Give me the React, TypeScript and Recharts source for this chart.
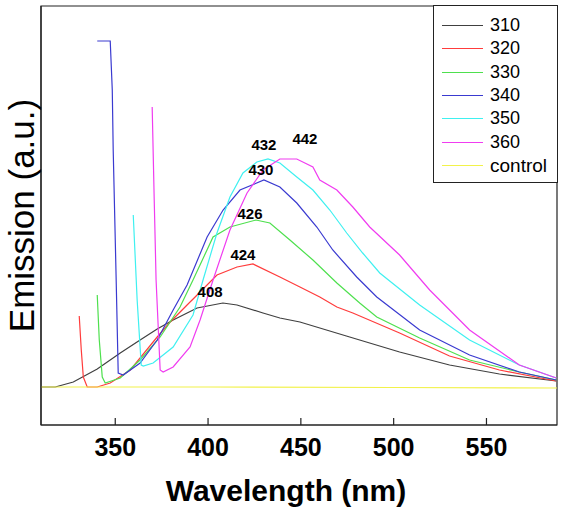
import { LineChart, Line, XAxis, YAxis, Legend, ReferenceArea, ReferenceDot } from 'recharts';

// excitation series, wavelength (nm) vs emission (a.u.)
const wl310 = [310.2, 317.7, 327.4, 340.3, 352.7, 363.4, 372.6, 381.2, 394.1, 408, 415.6, 429.6, 438.7, 449.5, 476.3, 503.2, 530.1, 557, 587.6];
const em310 = [38, 38, 43, 56, 72, 85, 96, 105, 117, 122, 120, 112, 107, 103, 88, 73, 60, 51, 44];

const wl320 = [330.6, 331.7, 332.8, 334.9, 340.3, 347.3, 358.1, 372.6, 379.6, 388.7, 394.1, 404.8, 415.6, 424.2, 438.7, 449.5, 460.2, 469.4, 478, 503.2, 530.1, 557, 587.6];
const em320 = [109, 75, 48, 38, 38, 42, 55, 88, 103, 120, 130, 150, 158, 161, 148, 138, 128, 118, 112, 92, 69, 55, 44];

const wl330 = [340.3, 341.4, 343, 344.6, 352.7, 363.4, 374.2, 384.9, 391.9, 402.7, 411.8, 425.8, 433.3, 444.1, 456.5, 469.4, 481.7, 490.9, 514, 540.9, 567.7, 587.6];
const em330 = [130, 85, 48, 42, 47, 65, 88, 118, 145, 188, 198, 205, 202, 185, 165, 142, 122, 108, 87, 65, 53, 45];

const wl340 = [340.3, 347.3, 348.4, 348.9, 350.5, 351.6, 354.3, 363.4, 372.6, 381.2, 388.7, 399.5, 408.1, 417.2, 430.1, 438.7, 447.8, 458.6, 467.2, 480.1, 490.9, 514, 540.9, 567.7, 587.6];
const em340 = [384, 384, 335, 275, 145, 52, 50, 62, 85, 115, 140, 188, 215, 235, 245, 238, 222, 198, 175, 148, 128, 95, 70, 53, 45];

const wl350 = [359.7, 361.8, 364, 365.1, 370.4, 381.2, 391.9, 397.3, 404.8, 411.8, 418.8, 426.3, 432.3, 438.7, 447.8, 456.5, 465.6, 474.7, 483.3, 492.5, 514, 540.9, 567.7, 587.6];
const em350 = [210, 125, 60, 59, 62, 78, 110, 145, 192, 228, 252, 263, 266, 262, 248, 235, 215, 192, 172, 152, 120, 85, 60, 47];

const wl360 = [369.9, 371, 372, 374.2, 375.8, 381.2, 390.3, 395.7, 402.7, 411.8, 421, 429.6, 438.7, 447.8, 456.5, 460.2, 469.4, 478, 487.1, 503.2, 519.4, 540.9, 567.7, 587.6];
const em360 = [318, 225, 145, 55, 53, 58, 78, 105, 145, 195, 232, 255, 266, 266, 258, 245, 235, 218, 198, 170, 135, 95, 60, 47];

const wlControl = [310, 400, 500, 588];
const emControl = [38, 38, 37.5, 37];

const seriesNames = ['310', '320', '330', '340', '350', '360', 'control'];
const seriesColors = ['#404040', '#ff3c3c', '#4ee04e', '#3a3ad0', '#3ff0f0', '#f03cf0', '#f2f24a'];
const seriesWl = [wl310, wl320, wl330, wl340, wl350, wl360, wlControl];
const seriesEm = [em310, em320, em330, em340, em350, em360, emControl];

// peak annotations
const peakText = ['408', '424', '426', '430', '432', '442'];
const peakLabelWl = [401.1, 418.8, 422.6, 428.5, 430.1, 452.2];
const peakLabelEm = [133, 170, 211, 255, 280, 286];

const xTicks = [350, 400, 450, 500, 550];

const FONT = '"Liberation Sans", Arial, sans-serif';

const series = seriesNames.map((name, i) => ({
  name,
  color: seriesColors[i],
  data: seriesWl[i].map((x, j) => ({ x, y: seriesEm[i][j] })),
}));

function BottomTick({ x, y, payload }: any) {
  return (
    <g>
      <line x1={x} y1={y} x2={x} y2={y - 7} stroke="#222" strokeWidth={1.2} />
      <text x={x} y={y + 31} textAnchor="middle" fontSize={25} fontWeight="bold" fill="#000" fontFamily={FONT}>
        {payload.value}
      </text>
    </g>
  );
}

function XTitle({ viewBox }: any) {
  return (
    <text x={viewBox.x + viewBox.width / 2 - 13} y={viewBox.y + 76} textAnchor="middle" fontSize={30} fontWeight="bold" fill="#000" fontFamily={FONT}>
      Wavelength (nm)
    </text>
  );
}

function YTitle({ viewBox }: any) {
  const cx = 21;
  const cy = viewBox.y + viewBox.height / 2;
  return (
    <text x={cx} y={cy} transform={`rotate(-90 ${cx} ${cy})`} textAnchor="middle" dominantBaseline="central" fontSize={35} fill="#000" fontFamily={FONT}>
      Emission (a.u.)
    </text>
  );
}

function LegendBox() {
  return (
    <div style={{ border: '1px solid #222', background: '#fff', padding: '8px 0 5px 0', boxSizing: 'border-box', width: 125 }}>
      {series.map((s) => (
        <div key={s.name} style={{ display: 'flex', alignItems: 'center', height: 23.3 }}>
          <div style={{ marginLeft: 8, width: 41, height: 0, borderTop: `1px solid ${s.color}` }} />
          <span style={{ marginLeft: 7, fontSize: s.name === 'control' ? 19 : 18, fontFamily: FONT, color: '#000', lineHeight: '23px' }}>{s.name}</span>
        </div>
      ))}
    </div>
  );
}

export default function App() {
  return (
    <div style={{ position: 'absolute', left: 0, top: 0, width: 564, height: 511, background: '#fff' }}>
      <LineChart width={564} height={511} margin={{ top: 6, right: 7, bottom: 0, left: 0 }}>
        <XAxis
          type="number"
          dataKey="x"
          domain={[310, 588]}
          ticks={xTicks}
          allowDataOverflow
          height={86}
          tickSize={0}
          tickMargin={0}
          tickLine={false}
          tick={<BottomTick />}
          axisLine={{ stroke: '#222', strokeWidth: 1.2 }}
          label={<XTitle />}
        />
        <YAxis
          type="number"
          domain={[0, 419]}
          allowDataOverflow
          width={41}
          tick={false}
          tickLine={false}
          axisLine={{ stroke: '#222', strokeWidth: 1.2 }}
          label={<YTitle />}
        />
        <ReferenceArea x1={310} x2={588} y1={0} y2={419} fill="none" stroke="#222" strokeWidth={1.2} ifOverflow="visible" />
        {series.map((s) => (
          <Line
            key={s.name}
            data={s.data}
            dataKey="y"
            name={s.name}
            type="linear"
            stroke={s.color}
            strokeWidth={1.2}
            dot={false}
            isAnimationActive={false}
          />
        ))}
        {peakText.map((t, i) => (
          <ReferenceDot
            key={t}
            x={peakLabelWl[i]}
            y={peakLabelEm[i]}
            r={0}
            fill="none"
            stroke="none"
            label={{ value: t, position: 'center', fontSize: 15, fontWeight: 'bold', fill: '#000', fontFamily: FONT }}
          />
        ))}
        <Legend
          layout="vertical"
          verticalAlign="middle"
          align="center"
          content={<LegendBox />}
          wrapperStyle={{ position: 'absolute', left: 433, top: 5, width: 125 }}
        />
      </LineChart>
    </div>
  );
}
